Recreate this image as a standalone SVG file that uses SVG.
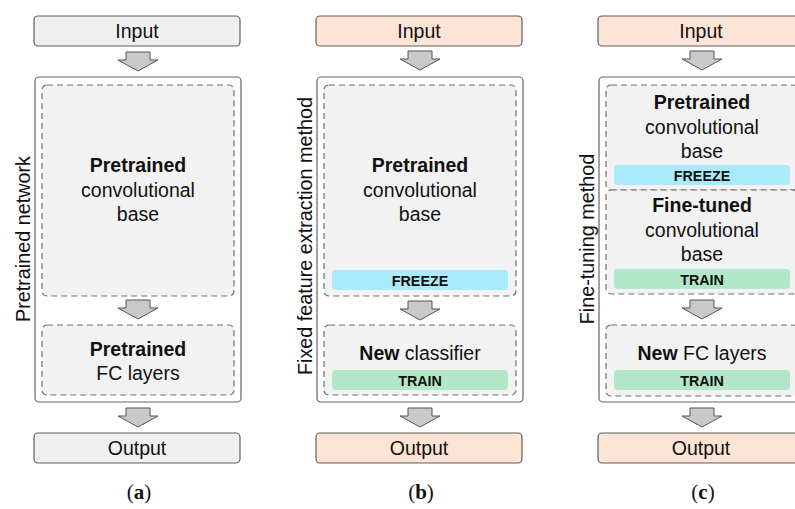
<svg xmlns="http://www.w3.org/2000/svg" xmlns:xlink="http://www.w3.org/1999/xlink" width="795" height="509" viewBox="0 0 795 509">
  <style>
    text { font-family: "Liberation Sans", Arial, sans-serif; fill: #111; }
    .t { font-size: 19.5px; text-anchor: middle; }
    .b { font-weight: bold; }
    .tag { font-size: 14.3px; font-weight: bold; text-anchor: middle; }
    .side { font-size: 19.8px; text-anchor: middle; }
    .cap { font-family: "Liberation Serif", "Times New Roman", serif; font-size: 21px; text-anchor: middle; }
    .io-gray { fill: #f0f0f0; stroke: #5f5f5f; stroke-width: 1.2; }
    .io-peach { fill: #fde4d4; stroke: #5f5f5f; stroke-width: 1.2; }
    .outer { fill: #ffffff; stroke: #666; stroke-width: 1.2; }
    .dash { fill: #f2f2f2; stroke: #6e6e6e; stroke-width: 1.2; stroke-dasharray: 6 4; }
    .freeze { fill: #aaebfb; }
    .train { fill: #b2e7c7; }
    .arrow { fill: #c9c9c9; stroke: #555; stroke-width: 1; stroke-linejoin: miter; }
  </style>
  <defs>
    <!-- block arrow, origin at top centre -->
    <path id="down" d="M-12,0 H12 V8 H20 L0,19 L-20,8 H-12 Z"/>
  </defs>

  <!-- ===== (a) pretrained network ===== -->
  <g id="a-input">
    <rect class="io-gray" x="34" y="16" width="206" height="30" rx="4"/>
    <text class="t" x="137" y="38">Input</text>
  </g>
  <g id="a-network">
    <rect class="outer" x="35" y="77" width="206" height="325" rx="4"/>
    <text class="side" transform="translate(30,239) rotate(-90)">Pretrained network</text>
  </g>
  <g id="a-conv">
    <rect class="dash" x="42" y="85" width="192" height="211" rx="5"/>
    <text class="t b" x="138" y="172">Pretrained</text>
    <text class="t" x="138" y="196.5">convolutional</text>
    <text class="t" x="138" y="221">base</text>
  </g>
  <g id="a-fc">
    <rect class="dash" x="42" y="325" width="192" height="70" rx="5"/>
    <text class="t b" x="138" y="356">Pretrained</text>
    <text class="t" x="138" y="380">FC layers</text>
  </g>
  <g id="a-output">
    <rect class="io-gray" x="34" y="433" width="206" height="30" rx="4"/>
    <text class="t" x="137" y="455">Output</text>
  </g>
  <text class="cap" x="139" y="499">(<tspan font-weight="bold">a</tspan>)</text>

  <!-- ===== (b) fixed feature extraction ===== -->
  <g id="b-input">
    <rect class="io-peach" x="316" y="16" width="206" height="30" rx="4"/>
    <text class="t" x="419" y="38">Input</text>
  </g>
  <g id="b-network">
    <rect class="outer" x="317" y="77" width="206" height="325" rx="4"/>
    <text class="side" transform="translate(312,236) rotate(-90)">Fixed feature extraction method</text>
  </g>
  <g id="b-conv">
    <rect class="dash" x="324" y="85" width="192" height="211" rx="5"/>
    <text class="t b" x="420" y="172">Pretrained</text>
    <text class="t" x="420" y="196.5">convolutional</text>
    <text class="t" x="420" y="221">base</text>
    <rect class="freeze" x="332" y="270" width="176" height="20" rx="4"/>
    <text class="tag" x="420" y="285.5">FREEZE</text>
  </g>
  <g id="b-classifier">
    <rect class="dash" x="324" y="325" width="192" height="70" rx="5"/>
    <text class="t" x="420" y="360"><tspan class="b">New</tspan> classifier</text>
    <rect class="train" x="332" y="370" width="176" height="20" rx="4"/>
    <text class="tag" x="420" y="385.5">TRAIN</text>
  </g>
  <g id="b-output">
    <rect class="io-peach" x="316" y="433" width="206" height="30" rx="4"/>
    <text class="t" x="419" y="455">Output</text>
  </g>
  <text class="cap" x="421" y="499">(<tspan font-weight="bold">b</tspan>)</text>

  <!-- ===== (c) fine-tuning ===== -->
  <g id="c-input">
    <rect class="io-peach" x="598" y="16" width="206" height="30" rx="4"/>
    <text class="t" x="701" y="38">Input</text>
  </g>
  <g id="c-network">
    <rect class="outer" x="599" y="77" width="206" height="325" rx="4"/>
    <text class="side" transform="translate(594,239) rotate(-90)">Fine-tuning method</text>
  </g>
  <g id="c-frozen">
    <rect class="dash" x="606" y="85" width="192" height="105" rx="5"/>
    <text class="t b" x="702" y="109">Pretrained</text>
    <text class="t" x="702" y="133.5">convolutional</text>
    <text class="t" x="702" y="158">base</text>
    <rect class="freeze" x="614" y="165" width="176" height="20" rx="4"/>
    <text class="tag" x="702" y="180.5">FREEZE</text>
  </g>
  <g id="c-tuned">
    <rect class="dash" x="606" y="190" width="192" height="104" rx="5"/>
    <text class="t b" x="702" y="212">Fine-tuned</text>
    <text class="t" x="702" y="236.5">convolutional</text>
    <text class="t" x="702" y="261">base</text>
    <rect class="train" x="614" y="269" width="176" height="20" rx="4"/>
    <text class="tag" x="702" y="284.5">TRAIN</text>
  </g>
  <g id="c-fc">
    <rect class="dash" x="606" y="325" width="192" height="71" rx="5"/>
    <text class="t" x="702" y="360"><tspan class="b">New</tspan> FC layers</text>
    <rect class="train" x="614" y="370" width="176" height="20" rx="4"/>
    <text class="tag" x="702" y="385.5">TRAIN</text>
  </g>
  <g id="c-output">
    <rect class="io-peach" x="598" y="433" width="206" height="30" rx="4"/>
    <text class="t" x="701" y="455">Output</text>
  </g>
  <text class="cap" x="703" y="499">(<tspan font-weight="bold">c</tspan>)</text>

  <!-- ===== flow arrows ===== -->
  <g id="connectors" class="arrow">
    <use xlink:href="#down" transform="translate(138,52)"/>
    <use xlink:href="#down" transform="translate(138,300)"/>
    <use xlink:href="#down" transform="translate(138,408)"/>
    <use xlink:href="#down" transform="translate(420,51)"/>
    <use xlink:href="#down" transform="translate(420,301)"/>
    <use xlink:href="#down" transform="translate(420,408)"/>
    <use xlink:href="#down" transform="translate(702,51)"/>
    <use xlink:href="#down" transform="translate(702,300)"/>
    <use xlink:href="#down" transform="translate(702,408)"/>
  </g>
</svg>
